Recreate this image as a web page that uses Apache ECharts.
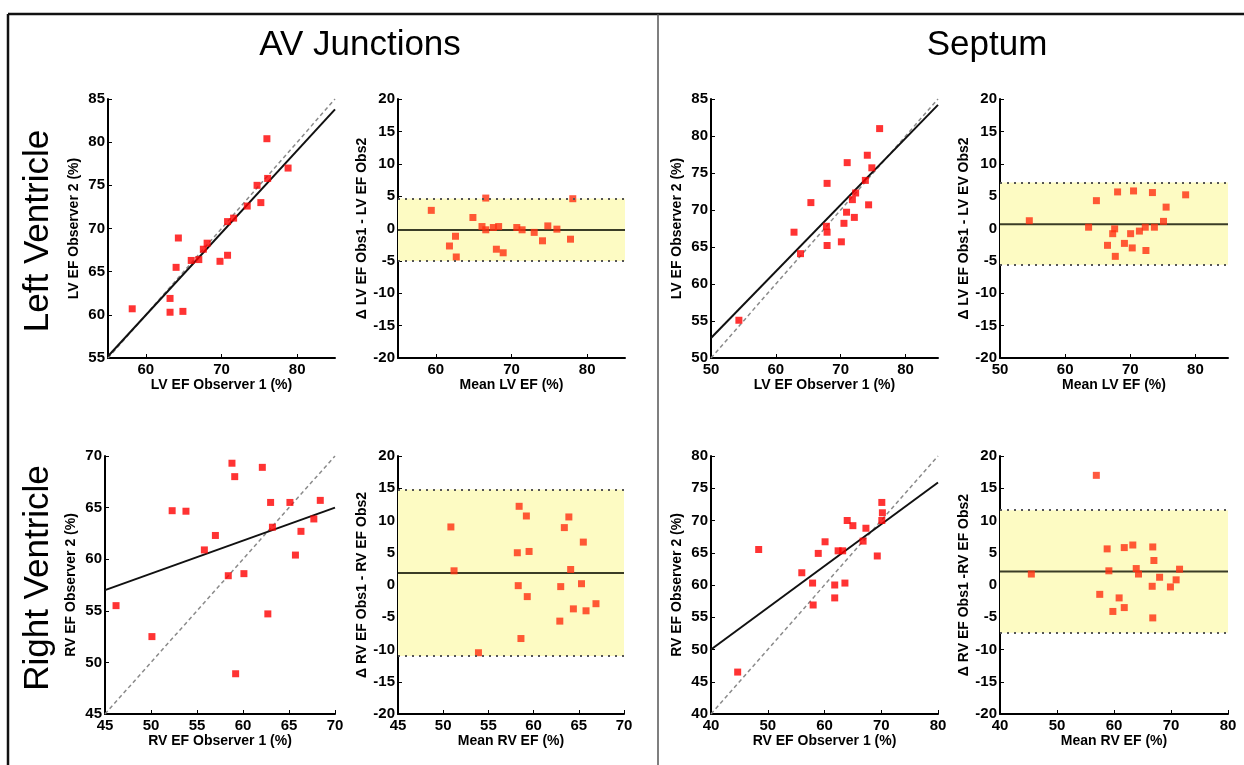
<!DOCTYPE html>
<html>
<head>
<meta charset="utf-8">
<script src="https://cdn.jsdelivr.net/npm/echarts@6/dist/echarts.min.js"></script>
<style>
html,body{margin:0;padding:0;background:#fff;}
#chart{width:1244px;height:765px;}
</style>
</head>
<body>
<div id="chart"></div>
<script>
// ---------- DATA ----------
const columnTitles = ['AV Junctions', 'Septum'];
const rowTitles = ['Left Ventricle', 'Right Ventricle'];

// AV Junctions - LV: observer 1 vs observer 2
const avLvScatter = [[58.2,60.7],[63.2,61.9],[63.2,60.3],[64.9,60.4],[64.0,65.5],[64.3,68.9],[66.0,66.3],[67.0,66.4],[67.6,67.6],[68.1,68.3],[69.8,66.2],[70.8,66.9],[70.8,70.8],[71.6,71.2],[73.4,72.6],[74.7,75.0],[75.2,73.0],[76.0,80.4],[76.1,75.8],[78.8,77.0]];
const avLvFit = [[55,55.2],[85,83.8]];
// AV Junctions - LV: Bland-Altman (mean, difference)
const avLvBA = [[59.4,2.8],[61.8,-2.7],[62.6,-1.2],[62.7,-4.4],[64.9,1.7],[66.1,0.3],[66.6,4.7],[66.6,-0.2],[67.6,0.15],[68.0,-3.2],[68.3,0.3],[68.9,-3.75],[70.7,0.15],[71.4,-0.2],[73.0,-0.6],[74.1,-1.9],[74.8,0.4],[76.0,-0.1],[77.8,-1.65],[78.1,4.6]];
const avLvLimits = [-0.25, 4.65, -5.0]; // mean, upper, lower

// Septum - LV
const sepLvScatter = [[54.3,55.1],[62.8,67.0],[63.8,64.1],[65.4,71.0],[67.9,73.6],[67.8,67.8],[67.9,67.0],[67.9,65.2],[70.1,65.7],[70.5,68.2],[70.9,69.7],[71.0,76.4],[71.8,71.4],[72.3,72.3],[72.1,69.0],[73.8,74.0],[74.1,77.4],[74.3,70.7],[74.8,75.7],[76.0,81.0]];
const sepLvFit = [[50,52.7],[85,84.2]];
const sepLvBA = [[54.5,1.2],[63.6,0.2],[64.8,4.3],[66.5,-2.6],[67.3,-0.8],[67.6,-0.05],[67.7,-4.3],[68.05,5.65],[69.1,-2.3],[70.05,-0.8],[70.3,-3.0],[70.5,5.8],[71.4,-0.4],[72.3,0.2],[72.4,-3.4],[73.4,5.55],[73.7,0.2],[75.1,1.1],[75.5,3.3],[78.5,5.2]];
const sepLvLimits = [0.65, 7.1, -5.6];

// AV Junctions - RV
const avRvScatter = [[46.2,55.5],[50.1,52.5],[52.3,64.7],[53.8,64.65],[55.8,60.9],[57.0,62.3],[58.4,58.4],[58.8,69.3],[59.1,68.0],[59.2,48.9],[60.1,58.6],[62.1,68.9],[62.7,54.7],[63.0,65.5],[63.2,63.1],[65.1,65.5],[65.7,60.4],[66.3,62.7],[67.7,63.9],[68.4,65.7]];
const avRvFit = [[45,57.0],[70,65.0]];
const avRvBA = [[50.85,9.0],[51.2,2.2],[53.9,-10.5],[58.2,5.0],[58.3,-0.1],[58.4,12.2],[58.6,-8.3],[59.2,10.7],[59.3,-1.8],[59.5,5.2],[62.9,-5.6],[63.0,-0.25],[63.4,8.9],[63.9,10.55],[64.1,2.4],[64.4,-3.7],[65.3,0.2],[65.5,6.65],[65.8,-4.0],[66.9,-2.9]];
const avRvLimits = [1.85, 14.8, -11.0];

// Septum - RV
const sepRvScatter = [[44.7,46.5],[48.4,65.5],[56.0,61.9],[57.9,60.3],[58.0,56.9],[58.9,64.9],[60.1,66.7],[61.8,60.0],[61.8,58.0],[62.4,65.3],[63.2,65.3],[63.6,60.3],[64.0,70.0],[65.0,69.2],[66.8,66.8],[67.3,68.8],[69.3,64.5],[70.1,72.8],[70.2,71.2],[70.1,70.0]];
const sepRvFit = [[40,50.0],[80,75.9]];
const sepRvBA = [[45.5,1.7],[56.9,17.0],[57.5,-1.45],[58.8,5.6],[59.1,2.2],[59.8,-4.1],[60.9,-2.0],[61.8,5.8],[61.8,-3.5],[63.3,6.2],[63.9,2.55],[64.3,1.7],[66.7,-0.2],[66.8,5.9],[66.8,-5.1],[67.0,3.8],[68.0,1.2],[69.9,-0.3],[70.9,0.8],[71.5,2.45]];
const sepRvLimits = [2.1, 11.6, -7.4];

// axis ranges and tick labels
const avLvRange = [55, 85];
const sepLvXRange = [50, 85];
const avRvRange = [45, 70];
const sepRvRange = [40, 80];
const baYRange = [-20, 20];
const avLvXTicks = [60, 70, 80];
const avLvYTicks = [55, 60, 65, 70, 75, 80, 85];
const sepLvXTicks = [50, 60, 70, 80];
const sepLvYTicks = [50, 55, 60, 65, 70, 75, 80, 85];
const avRvTicks = [45, 50, 55, 60, 65, 70];
const sepRvXTicks = [40, 50, 60, 70, 80];
const sepRvYTicks = [40, 45, 50, 55, 60, 65, 70, 75, 80];
const baYTicks = [-20, -15, -10, -5, 0, 5, 10, 15, 20];

const xNames = ['LV EF Observer 1 (%)', 'Mean LV EF (%)', 'LV EF Observer 1 (%)', 'Mean LV EF (%)',
                'RV EF Observer 1 (%)', 'Mean RV EF (%)', 'RV EF Observer 1 (%)', 'Mean RV EF (%)'];
const yNames = ['LV EF Observer 2 (%)', '\u0394 LV EF Obs1 - LV EF Obs2', 'LV EF Observer 2 (%)', '\u0394 LV EF Obs1 - LV EV Obs2',
                'RV EF Observer 2 (%)', '\u0394 RV EF Obs1 - RV EF Obs2', 'RV EF Observer 2 (%)', '\u0394 RV EF Obs1 -RV EF Obs2'];

// ---------- LAYOUT ----------
const grids = [
  {left:108, top:99, width:227, height:259},
  {left:398, top:99, width:227, height:259},
  {left:711, top:99, width:227, height:259},
  {left:1000, top:99, width:228, height:259},
  {left:105, top:456, width:230, height:258},
  {left:398, top:456, width:226, height:258},
  {left:711, top:456, width:227, height:258},
  {left:1000, top:456, width:228, height:258}
];

const FONT = 'Liberation Sans, Arial, sans-serif';

function mkAxis(i, dim, range, ticks, name) {
  return {
    type: 'value',
    gridIndex: i,
    min: range[0],
    max: range[1],
    name: name,
    nameLocation: 'middle',
    nameGap: dim === 'x' ? 19 : 27,
    nameTextStyle: {fontFamily: FONT, fontWeight: 'bold', fontSize: 14, color: '#000'},
    axisLine: {show: true, onZero: false, lineStyle: {color: '#000', width: 2}},
    axisTick: {show: true, inside: true, length: 4, customValues: ticks, lineStyle: {color: '#000', width: 1}},
    axisLabel: {customValues: ticks, fontFamily: FONT, fontWeight: 'bold', fontSize: 15, color: '#000', margin: dim === 'x' ? 4 : 3},
    splitLine: {show: false}
  };
}

const panels = [
  {type:'sc', x: avLvRange, y: avLvRange, xt: avLvXTicks, yt: avLvYTicks, data: avLvScatter, fit: avLvFit},
  {type:'ba', x: avLvRange, y: baYRange, xt: avLvXTicks, yt: baYTicks, data: avLvBA, lim: avLvLimits},
  {type:'sc', x: sepLvXRange, y: sepLvXRange, xt: sepLvXTicks, yt: sepLvYTicks, data: sepLvScatter, fit: sepLvFit},
  {type:'ba', x: sepLvXRange, y: baYRange, xt: sepLvXTicks, yt: baYTicks, data: sepLvBA, lim: sepLvLimits},
  {type:'sc', x: avRvRange, y: avRvRange, xt: avRvTicks, yt: avRvTicks, data: avRvScatter, fit: avRvFit},
  {type:'ba', x: avRvRange, y: baYRange, xt: avRvTicks, yt: baYTicks, data: avRvBA, lim: avRvLimits},
  {type:'sc', x: sepRvRange, y: sepRvRange, xt: sepRvXTicks, yt: sepRvYTicks, data: sepRvScatter, fit: sepRvFit},
  {type:'ba', x: sepRvRange, y: baYRange, xt: sepRvXTicks, yt: baYTicks, data: sepRvBA, lim: sepRvLimits}
];

const xAxis = [], yAxis = [], series = [];
panels.forEach((p, i) => {
  xAxis.push(mkAxis(i, 'x', p.x, p.xt, xNames[i]));
  yAxis.push(mkAxis(i, 'y', p.y, p.yt, yNames[i]));
  if (p.type === 'sc') {
    series.push({
      type: 'line', xAxisIndex: i, yAxisIndex: i, silent: true, showSymbol: false, z: 1,
      data: [[p.x[0], p.x[0]], [p.x[1], p.x[1]]],
      lineStyle: {color: '#8a8a8a', width: 1.5, type: [4, 3]}
    });
    series.push({
      type: 'line', xAxisIndex: i, yAxisIndex: i, silent: true, showSymbol: false, z: 2,
      data: p.fit,
      lineStyle: {color: '#111', width: 2}
    });
    series.push({
      type: 'scatter', xAxisIndex: i, yAxisIndex: i, z: 3,
      symbol: 'rect', symbolSize: 7,
      itemStyle: {color: '#ff0000'},
      data: p.data
    });
  } else {
    series.push({
      type: 'line', xAxisIndex: i, yAxisIndex: i, silent: true, showSymbol: false, z: 2,
      data: [[p.x[0], p.lim[0]], [p.x[1], p.lim[0]]],
      lineStyle: {color: '#3a3c26', width: 2},
      markArea: {
        silent: true,
        itemStyle: {color: '#fdfbc3'},
        data: [[{yAxis: p.lim[2]}, {yAxis: p.lim[1]}]]
      },
      markLine: {
        silent: true, symbol: ['none', 'none'],
        label: {show: false},
        lineStyle: {color: '#555', width: 2, type: [2, 5]},
        data: [{yAxis: p.lim[1]}, {yAxis: p.lim[2]}]
      }
    });
    series.push({
      type: 'scatter', xAxisIndex: i, yAxisIndex: i, z: 3,
      symbol: 'rect', symbolSize: 7,
      itemStyle: {color: '#ff3010'},
      data: p.data
    });
  }
});

const graphic = [
  {type:'line', shape:{x1:8, y1:14, x2:1244, y2:14}, style:{stroke:'#111', lineWidth:2.5}, silent:true},
  {type:'line', shape:{x1:8, y1:14, x2:8, y2:765}, style:{stroke:'#111', lineWidth:2.5}, silent:true},
  {type:'line', shape:{x1:658, y1:14, x2:658, y2:765}, style:{stroke:'#555', lineWidth:1.5}, silent:true},
  {type:'text', x:360, y:45, style:{text: columnTitles[0], font:'35px ' + FONT, fill:'#000', textAlign:'center', textVerticalAlign:'middle'}},
  {type:'text', x:987, y:45, style:{text: columnTitles[1], font:'35px ' + FONT, fill:'#000', textAlign:'center', textVerticalAlign:'middle'}},
  {type:'text', x:38, y:231, rotation: Math.PI/2, style:{text: rowTitles[0], font:'35px ' + FONT, fill:'#000', textAlign:'center', textVerticalAlign:'middle'}},
  {type:'text', x:38, y:578, rotation: Math.PI/2, style:{text: rowTitles[1], font:'35px ' + FONT, fill:'#000', textAlign:'center', textVerticalAlign:'middle'}}
];

const chart = echarts.init(document.getElementById('chart'), null, {renderer: 'canvas'});
chart.setOption({
  animation: false,
  backgroundColor: '#fff',
  grid: grids,
  xAxis: xAxis,
  yAxis: yAxis,
  series: series,
  graphic: graphic
});
</script>
</body>
</html>
